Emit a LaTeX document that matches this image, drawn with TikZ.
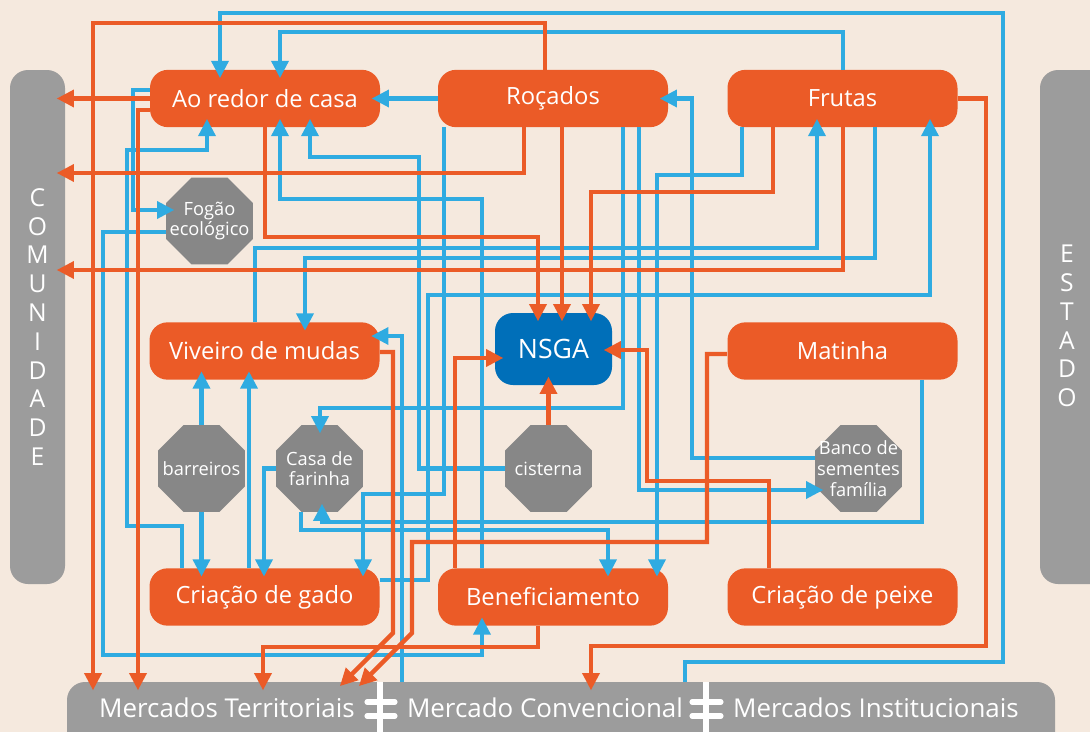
\documentclass[tikz,border=0pt]{standalone}
\usepackage{fontspec}
\setmainfont{Open Sans}
\usetikzlibrary{arrows.meta,shapes.geometric}
\definecolor{bgC}{HTML}{F5E9DE}
\definecolor{orC}{HTML}{EB5B27}
\definecolor{blC}{HTML}{2FABE1}
\definecolor{nsC}{HTML}{006FB9}
\definecolor{barC}{HTML}{9C9C9C}
\definecolor{octC}{HTML}{878787}
\begin{document}
\begin{tikzpicture}[x=0.75pt,y=-0.75pt,
  box/.style={fill=orC, rounded corners=13.5pt, minimum width=172.5pt, minimum height=43pt, inner sep=0pt, text=white, font=\fontsize{17.8}{21}\selectfont},
  octo/.style={regular polygon, regular polygon sides=8, fill=octC, minimum size=70.6pt, inner sep=0pt},
  olbl/.style={text=white, align=center, font=\fontsize{13.7}{15.5}\selectfont},
  side/.style={fill=barC, rounded corners=13.5pt, inner sep=0pt},
  sidetxt/.style={text=white, align=center, font=\fontsize{18.5}{21.6}\selectfont},
  mtxt/.style={text=white, font=\fontsize{19.45}{22}\selectfont},
  bl/.style={draw=blC, line width=3.3pt},
  ora/.style={draw=orC, line width=3.3pt},
  arr/.style={-{Triangle[length=13pt,width=12.5pt]}, shorten >=-6.5pt},
  sepv/.style={draw=white, line width=3.8pt},
  seph/.style={draw=white, line width=3.8pt, line cap=round},
]
\useasboundingbox (0,0) rectangle (1090,732);
\clip (0,0) rectangle (1090,732);
\fill[bgC] (0,0) rectangle (1090,732);
% side bars
\node[side, minimum width=41.25pt, minimum height=385.5pt] (com) at (37.5,327) {};
\node[sidetxt] (comt) at (37.5,327) {C\\O\\M\\U\\N\\I\\D\\A\\D\\E};
\node[side, minimum width=60pt, minimum height=385.5pt] (est) at (1080,327) {};
\node[sidetxt] (estt) at (1067,326) {E\\S\\T\\A\\D\\O};
\node[side, minimum width=741pt, minimum height=60pt] (mk) at (561,722) {};
\node[mtxt, anchor=base] (m1) at (227,717) {Mercados Territoriais};
\node[mtxt, anchor=base] (m2) at (545,717) {Mercado Convencional};
\node[mtxt, anchor=base] (m3) at (876,717) {Mercados Institucionais};
\draw[sepv] (380,682) -- (380,732);
\draw[seph] (367,702) -- (395,702);
\draw[seph] (367,716) -- (395,716);
\draw[sepv] (706,682) -- (706,732);
\draw[seph] (692,702) -- (721,702);
\draw[seph] (692,716) -- (721,716);
% boxes
\node[box] (aor) at (265,98.5) {Ao redor de casa};
\node[box] (roc) at (553,98.5) {Roçados};
\node[box] (fru) at (842.5,98.5) {Frutas};
\node[box] (viv) at (264.5,351) {Viveiro de mudas};
\node[box, fill=nsC, minimum width=87.75pt, minimum height=54pt, font=\fontsize{20}{24}\selectfont] (nsga) at (553.5,349) {NSGA};
\node[box] (mat) at (842.5,351) {Matinha};
\node[box] (gad) at (264.5,597) {Criação de gado};
\node[box] (ben) at (553,597) {Beneficiamento};
\node[box] (pei) at (842.5,597) {Criação de peixe};
% octagons
\node[octo, label={[olbl]center:{Fogão\\ecológico}}] (fog) at (209.5,221) {};
\node[octo, label={[olbl]center:{barreiros}}] (bar) at (201.5,468.5) {};
\node[octo, label={[olbl]center:{Casa de\\farinha}}] (caf) at (319.5,468.5) {};
\node[octo, label={[olbl]center:{cisterna}}] (cis) at (548.5,468.5) {};
\node[octo, label={[olbl]center:{Banco de\\sementes\\família}}] (ban) at (858.5,468.5) {};
% blue connectors
\draw[bl,arr] (685,0 |- mk.north) |- (1003,662) |- (220,13) -- (220,0 |- aor.north);
\draw[bl,arr] (843,0 |- fru.north) |- (280,32) -- (280,0 |- aor.north);
\draw[bl,arr] (aor.west |- 0,90) -| (133,210) -- (fog.west |- 0,210);
\draw[bl,arr] (182,0 |- gad.north) |- (127,526) |- (207,150) -- (207,0 |- aor.south);
\draw[bl,arr] (cis.west) -| (419,157) -| (310,0 |- aor.south);
\draw[bl,arr] (482,0 |- ben.north) |- (280,199) -- (280,0 |- aor.south);
\draw[bl,arr] (roc.west) -- (aor.east);
\draw[bl,arr] (ban.west |- 0,458) -| (692,0 |- roc.east) -- (roc.east);
\draw[bl,arr] (444,0 |- roc.south) |- (363,494) -- (363,0 |- gad.north);
\draw[bl,arr] (623,0 |- roc.south) |- (320,408) -- (320,0 |- caf.north);
\draw[bl,arr] (639,0 |- roc.south) |- (ban.west |- 0,490);
\draw[bl,arr] (742,0 |- fru.south) |- (657,175) -- (657,0 |- ben.north);
\draw[bl,arr] (301,0 |- caf.south) |- (608,530) -- (608,0 |- ben.north);
\draw[bl,arr] (922,0 |- mat.south) |- (322,522) -- (322,0 |- caf.south);
\draw[bl,arr] (caf.west) -| (264,0 |- gad.north);
\draw[bl,arr] (bar.north) -- (bar.north |- viv.south);
\draw[bl,arr] (bar.south) -- (bar.south |- gad.north);
\draw[bl,arr] (249,0 |- gad.north) -- (249,0 |- viv.south);
\draw[bl,arr] (255,0 |- viv.north) |- (817,248) -- (817,0 |- fru.south);
\draw[bl,arr] (875,0 |- fru.south) |- (305,258) -- (305,0 |- viv.north);
\draw[bl,arr] (402,0 |- mk.north) |- (viv.east |- 0,336);
\draw[bl,arr] (gad.east |- 0,580) -| (428,295) -| (930,0 |- fru.south);
\draw[bl,arr] (fog.west |- 0,232) -| (103,655) -| (482,0 |- ben.south);
% orange connectors
\draw[ora,arr] (545,0 |- roc.north) |- (93,23) -- (93,0 |- mk.north);
\draw[ora,arr] (aor.west) -- (com.east |- aor.west);
\draw[ora,arr] (aor.west |- 0,110) -| (138,0 |- mk.north);
\draw[ora,arr] (524,0 |- roc.south) |- (com.east |- 0,173);
\draw[ora,arr] (843,0 |- fru.south) |- (com.east |- 0,270);
\draw[ora,arr] (265,0 |- aor.south) |- (538,237) -- (538,0 |- nsga.north);
\draw[ora,arr] (562,0 |- roc.south) -- (562,0 |- nsga.north);
\draw[ora,arr] (773,0 |- fru.south) |- (591,192) -- (591,0 |- nsga.north);
\draw[ora,arr] (455,0 |- ben.north) |- (nsga.west |- 0,358);
\draw[ora,arr] (769,0 |- pei.north) |- (647,481) |- (nsga.east |- 0,350);
\draw[ora,arr] (cis.north) -- (cis.north |- nsga.south);
\draw[ora,arr] (fru.east) -| (986,646) -| (591,0 |- mk.north);
\draw[ora,arr] (538,0 |- ben.south) |- (263,647) -- (263,0 |- mk.north);
\draw[ora,arr] (viv.east |- 0,352) -| (393,633) -- (346,680);
\draw[ora,arr] (mat.west |- 0,354) -| (707,542) -| (412,633) -- (365,680);
\end{tikzpicture}
\end{document}
